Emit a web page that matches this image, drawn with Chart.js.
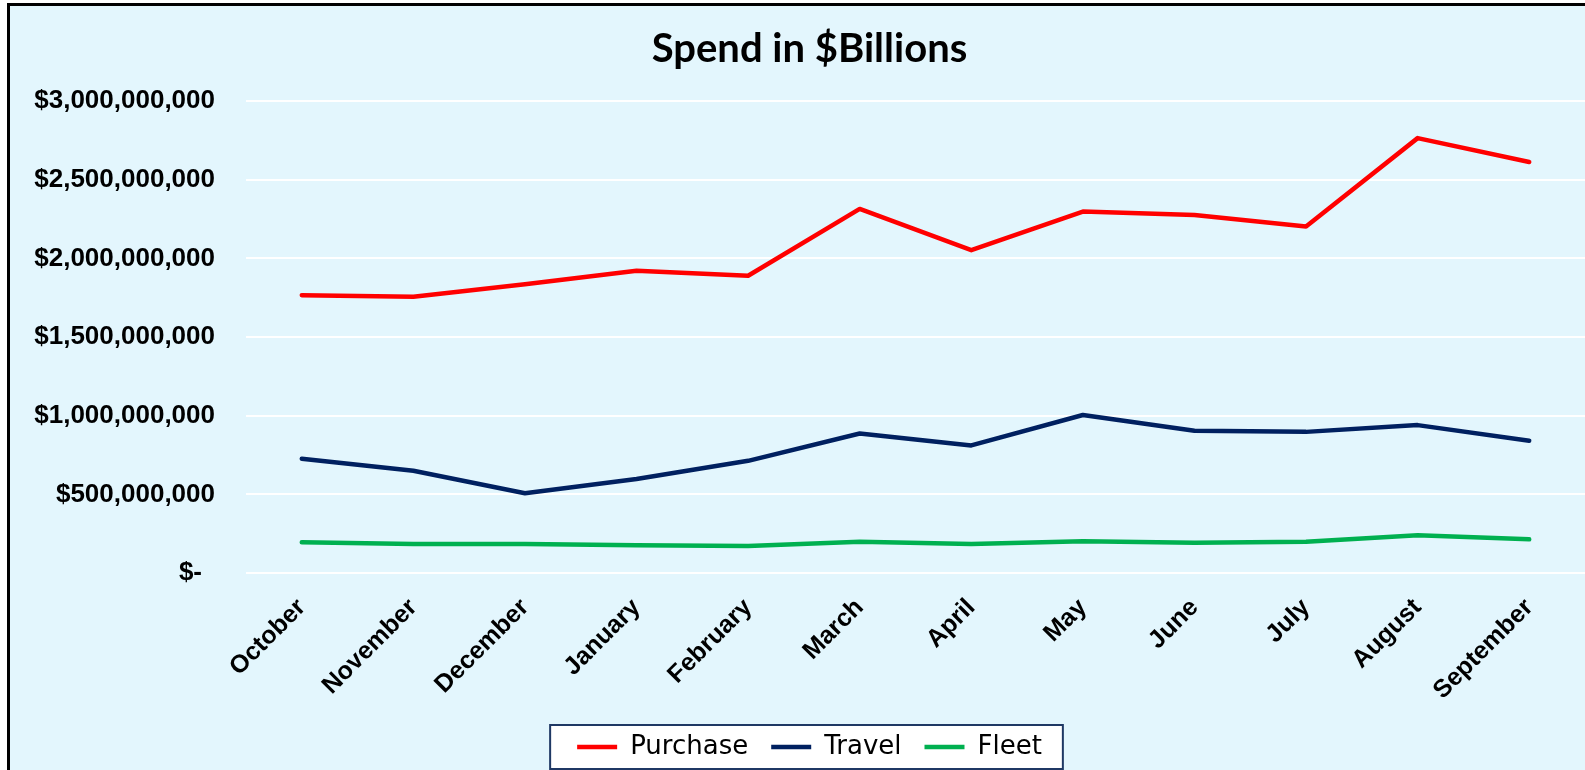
<!DOCTYPE html>
<html>
<head>
<meta charset="utf-8">
<script src="https://cdn.jsdelivr.net/npm/chart.js@4/dist/chart.umd.min.js"></script>
<style>
  body { margin: 0; background: #ffffff; overflow: hidden; }
  #frame { position: absolute; left: 7px; top: 3px; width: 1600px; height: 800px;
           border: 3px solid #000; background: #e3f6fd; }
  #wrap { position: absolute; left: 10px; top: 6px; width: 1575px; height: 764px; }
</style>
</head>
<body>
<div id="frame"></div>
<div id="wrap"><canvas id="spend"></canvas></div>
<script>
let months = ["October", "November", "December", "January", "February", "March",
              "April", "May", "June", "July", "August", "September"];
let purchase = [1.766e9, 1.756e9, 1.835e9, 1.921e9, 1.889e9, 2.314e9,
                2.052e9, 2.297e9, 2.275e9, 2.202e9, 2.764e9, 2.612e9];
let travel = [0.726e9, 0.650e9, 0.507e9, 0.597e9, 0.713e9, 0.887e9,
              0.811e9, 1.004e9, 0.904e9, 0.897e9, 0.940e9, 0.841e9];
let fleet = [0.195e9, 0.185e9, 0.185e9, 0.176e9, 0.172e9, 0.198e9,
             0.185e9, 0.202e9, 0.193e9, 0.198e9, 0.240e9, 0.214e9];

function money(v) {
  if (v === 0) return "$-\u2002";
  return "$" + v.toLocaleString("en-US");
}

function mkset(label, color, data) {
  return {
    label: label,
    data: data,
    borderColor: color,
    backgroundColor: color,
    borderWidth: 4.5,
    pointRadius: 0,
    tension: 0,
    borderCapStyle: "round",
    borderJoinStyle: "round"
  };
}

// white box with navy border behind the legend, like the Excel one
let legendBox = {
  id: "legendBox",
  afterDraw(chart) {
    let boxes = chart.legend.legendHitBoxes;
    if (!boxes || !boxes.length) return;
    let left = Math.min(...boxes.map(b => b.left)) - 27;
    let right = Math.max(...boxes.map(b => b.left + b.width)) + 21;
    let mid = boxes[0].top + boxes[0].height / 2;
    let ctx = chart.ctx;
    ctx.save();
    ctx.fillStyle = "#ffffff";
    ctx.fillRect(left, mid - 22, right - left, 44);
    ctx.strokeStyle = "#1f3864";
    ctx.lineWidth = 2;
    ctx.strokeRect(left, mid - 22, right - left, 44);
    ctx.restore();
    chart.legend.draw();
  }
};

window.onload = function () {
  new Chart(document.getElementById("spend"), {
    type: "line",
    data: {
      labels: months,
      datasets: [
        mkset("Purchase", "#ff0000", purchase),
        mkset("Travel", "#002060", travel),
        mkset("Fleet", "#00b050", fleet)
      ]
    },
    options: {
      responsive: true,
      maintainAspectRatio: false,
      animation: false,
      layout: { padding: { left: 24, bottom: 0 } },
      plugins: {
        title: {
          display: true,
          text: "Spend in $Billions",
          color: "#000",
          font: { family: "Lato", size: 40, weight: "bold" },
          padding: { top: 19, bottom: 28 }
        },
        legend: {
          position: "bottom",
          labels: {
            usePointStyle: true,
            pointStyle: "line",
            pointStyleWidth: 40,
            padding: 23,
            color: "#000",
            font: { family: "DejaVu Sans", size: 26 }
          }
        },
        tooltip: { enabled: false }
      },
      scales: {
        x: {
          offset: true,
          grid: { display: false, drawTicks: false },
          border: { display: false },
          ticks: {
            minRotation: 45,
            maxRotation: 45,
            padding: 20,
            color: "#000",
            font: { family: "Liberation Sans", size: 25, weight: "bold" }
          },
          afterFit(scale) { scale.height = 138; }
        },
        y: {
          min: 0,
          max: 3e9,
          grid: { color: "#ffffff", lineWidth: 2, drawTicks: false },
          border: { display: false },
          ticks: {
            stepSize: 5e8,
            padding: 31,
            color: "#000",
            font: { family: "Liberation Sans", size: 26, weight: "bold" },
            callback: v => money(v)
          },
          afterFit(scale) { scale.width = 212; }
        }
      }
    },
    plugins: [legendBox]
  });
};
</script>
</body>
</html>
